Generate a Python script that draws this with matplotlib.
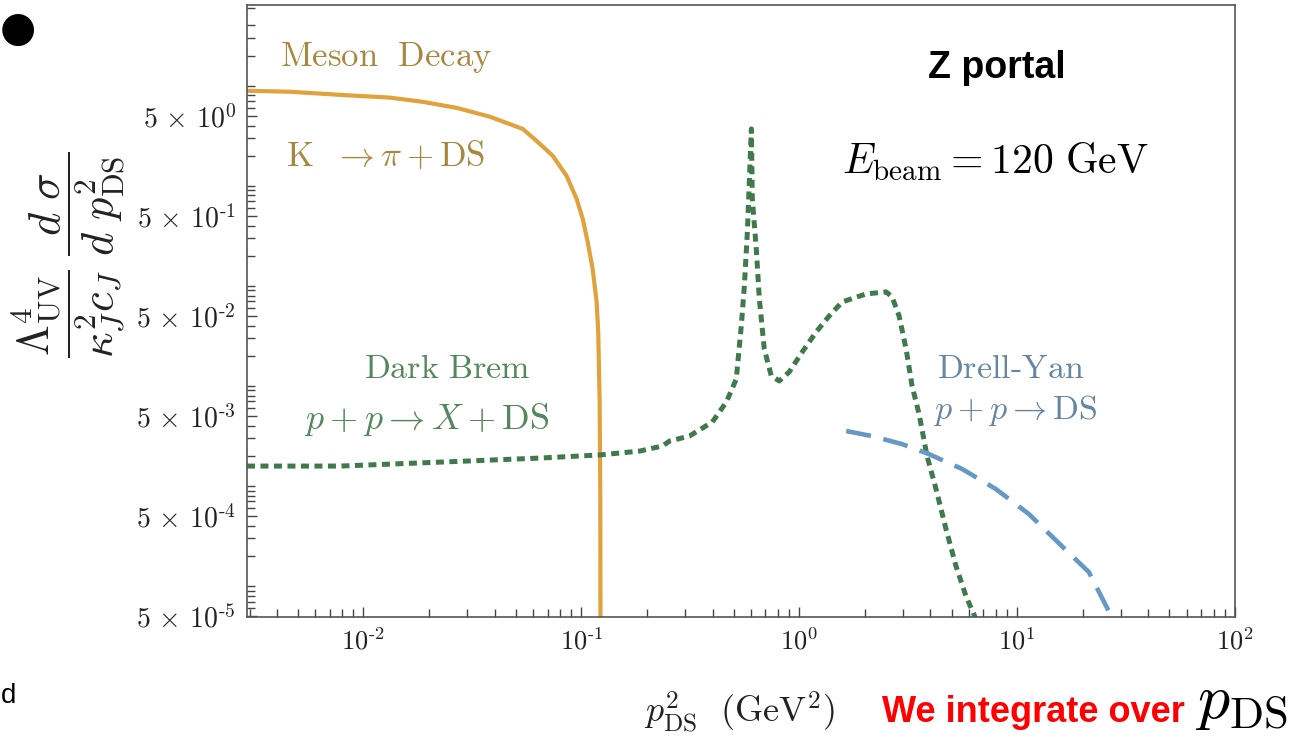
import matplotlib
matplotlib.use('Agg')
import matplotlib.pyplot as plt
from matplotlib.ticker import FixedLocator, FixedFormatter, LogLocator, NullFormatter

plt.rcParams['mathtext.fontset'] = 'cm'  # LaTeX 비슷한 글꼴
plt.rcParams['font.family'] = ['DejaVu Serif']

# Meson decay (K -> pi + DS)
meson_x = [0.00292, 0.0046, 0.0078, 0.0132, 0.0187, 0.0268, 0.0380, 0.0538, 0.0624, 0.0738,
           0.0855, 0.0951, 0.1014, 0.1069, 0.1127, 0.1175, 0.1195, 0.1213, 0.1222, 0.1225]
meson_y = [8.9, 8.7, 8.1, 7.6, 6.9, 6.0, 4.9, 3.7, 2.8, 2.0,
           1.26, 0.74, 0.47, 0.275, 0.148, 0.069, 0.035, 0.0074, 7.4e-4, 1e-5]

# Dark Brem (p + p -> X + DS)
brem_x = [0.00292, 0.0078, 0.0224, 0.0644, 0.121, 0.185, 0.236, 0.254, 0.313, 0.399,
          0.463, 0.514, 0.542, 0.560, 0.578, 0.590, 0.603, 0.609, 0.635, 0.656,
          0.691, 0.744, 0.810, 0.900, 1.032, 1.196, 1.372, 1.574, 2.028, 2.504,
          2.668, 2.872, 3.093, 3.295, 3.547, 3.859, 4.244, 4.716, 5.241, 5.824, 6.471]
brem_y = [1.58e-3, 1.58e-3, 1.73e-3, 1.90e-3, 2.04e-3, 2.23e-3, 2.51e-3, 2.81e-3, 3.15e-3, 4.35e-3,
          6.9e-3, 0.0117, 0.0397, 0.0998, 0.346, 1.09, 3.70, 0.74, 0.234, 0.074,
          0.0234, 0.0126, 0.0112, 0.0138, 0.0218, 0.0346, 0.050, 0.069, 0.083, 0.087,
          0.0775, 0.050, 0.0234, 9.98e-3, 5.24e-3, 1.99e-3, 9.31e-4, 3.71e-4, 1.58e-4, 7.92e-5, 4.67e-5]

# Drell-Yan (p + p -> DS)
dy_x = [1.642, 2.160, 2.964, 3.941, 5.582, 7.99, 11.32, 16.03, 21.33, 27.18]
dy_y = [3.54e-3, 3.15e-3, 2.62e-3, 2.08e-3, 1.48e-3, 9.31e-4, 5.24e-4, 2.51e-4, 1.38e-4, 4.9e-5]

# 축 눈금
y_ticks = [5e-5, 5e-4, 5e-3, 5e-2, 5e-1, 5e0]
y_tick_labels = [r'$5\,\times\,10^{\text{-}5}$', r'$5\,\times\,10^{\text{-}4}$', r'$5\,\times\,10^{\text{-}3}$',
                 r'$5\,\times\,10^{\text{-}2}$', r'$5\,\times\,10^{\text{-}1}$', r'$5\,\times\,10^{0}$']
x_ticks = [1e-2, 1e-1, 1e0, 1e1, 1e2]
x_tick_labels = [r'$10^{\text{-}2}$', r'$10^{\text{-}1}$', r'$10^{0}$', r'$10^{1}$', r'$10^{2}$']

fig = plt.figure(figsize=(12.95, 7.49), dpi=100)
ax = fig.add_axes([0.1907, 0.1762, 0.7630, 0.8171])

ax.plot(meson_x, meson_y, color='#E0A23C', lw=3, solid_capstyle='butt')
ax.plot(brem_x, brem_y, color='#3F7A4C', lw=3.6, linestyle=(0, (1.6, 1.1)))
ax.plot(dy_x, dy_y, color='#6598C4', lw=3.3, linestyle=(0, (5.5, 2.8)))

ax.set_xscale('log')
ax.set_yscale('log')
ax.set_xlim(0.00292, 100)
ax.set_ylim(4.9e-5, 64)

ax.yaxis.set_major_locator(FixedLocator(y_ticks))
ax.yaxis.set_major_formatter(FixedFormatter(y_tick_labels))
ax.yaxis.set_minor_locator(LogLocator(base=10, subs=(1, 2, 3, 4, 6, 7, 8, 9), numticks=30))
ax.yaxis.set_minor_formatter(NullFormatter())
ax.xaxis.set_major_locator(FixedLocator(x_ticks))
ax.xaxis.set_major_formatter(FixedFormatter(x_tick_labels))
ax.xaxis.set_minor_locator(LogLocator(base=10, subs=(2, 3, 4, 5, 6, 7, 8, 9), numticks=30))
ax.xaxis.set_minor_formatter(NullFormatter())

ax.tick_params(which='both', direction='in', colors='#444444', labelcolor='#222222', width=1)
ax.tick_params(which='major', length=7, labelsize=19, pad=8)
ax.tick_params(which='minor', length=6)
ax.tick_params(axis='y', which='major', labelsize=20)
for s in ax.spines.values():
    s.set_color('#555555')
    s.set_linewidth(1.2)

# 곡선 이름
ax.text(0.141, 0.915, r'$\mathrm{Meson\ \ Decay}$', transform=ax.transAxes, ha='center', va='center',
        fontsize=25, color='#A8883F')
ax.text(0.140, 0.753, r'$\mathrm{K}\ \ \rightarrow \pi + \mathrm{DS}$', transform=ax.transAxes,
        ha='center', va='center', fontsize=25, color='#A8883F')
ax.text(0.203, 0.405, r'$\mathrm{Dark\ Brem}$', transform=ax.transAxes, ha='center', va='center',
        fontsize=24.5, color='#55875E')
ax.text(0.182, 0.322, r'$p + p \rightarrow X + \mathrm{DS}$', transform=ax.transAxes,
        ha='center', va='center', fontsize=26, color='#55875E')
ax.text(0.773, 0.405, r'$\mathrm{Drell\text{-}Yan}$', transform=ax.transAxes, ha='center', va='center',
        fontsize=24.5, color='#6585A3')
ax.text(0.778, 0.338, r'$p + p \rightarrow \mathrm{DS}$', transform=ax.transAxes,
        ha='center', va='center', fontsize=24.5, color='#6585A3')

ax.text(0.759, 0.897, 'Z portal', transform=ax.transAxes, ha='center', va='center',
        fontsize=27, fontweight='bold', family='Liberation Sans', color='black')
ax.text(0.757, 0.743, r'$E_{\mathrm{beam}} = 120\ \mathrm{GeV}$', transform=ax.transAxes,
        ha='center', va='center', fontsize=30, color='black')

# 축 이름
fig.text(0.053, 0.66,
         r'$\dfrac{\Lambda_{\mathrm{UV}}^{4}}{\kappa_J^{2} c_J}\;\dfrac{d\ \sigma}{d\ p_{\mathrm{DS}}^{2}}$',
         rotation=90, ha='center', va='center', fontsize=32, color='#222222')
fig.text(0.571, 0.049, r'$p_{\mathrm{DS}}^{2}\ \ (\mathrm{GeV}^{2})$', ha='center', va='center',
         fontsize=26, color='#222222')

# 슬라이드 위의 글자
fig.text(0.915, 0.049, 'We integrate over', ha='right', va='center', fontsize=26,
         fontweight='bold', family='Liberation Sans', color='#FF0000')
fig.text(0.923, 0.064, r'$p_{\mathrm{DS}}$', ha='left', va='center', fontsize=46, color='black')
fig.text(0.0, 0.962, '\u25CF', ha='left', va='center', fontsize=30, family='DejaVu Sans', color='black')
fig.text(0.001, 0.071, 'd', ha='left', va='center', fontsize=20, family='Liberation Sans', color='black')

fig.savefig('out.png', dpi=100)
